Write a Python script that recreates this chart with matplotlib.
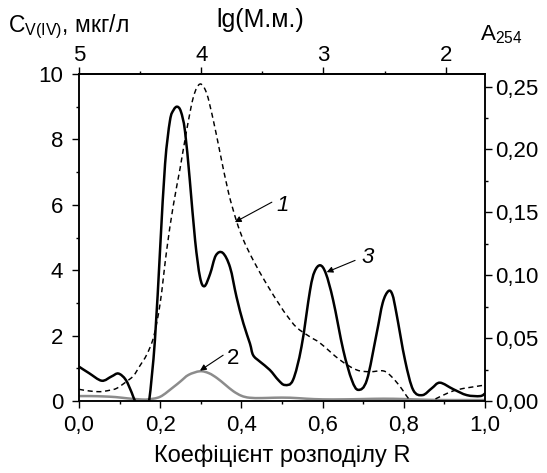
import matplotlib
matplotlib.use("Agg")
import numpy as np
import matplotlib.pyplot as plt
from matplotlib.path import Path
from matplotlib.patches import PathPatch
from matplotlib.ticker import MultipleLocator, FixedLocator, FuncFormatter

plt.rcParams['font.family'] = ['Liberation Sans', 'DejaVu Sans']
plt.rcParams['mathtext.fontset'] = 'custom'
plt.rcParams['mathtext.rm'] = 'Liberation Sans'
plt.rcParams['mathtext.it'] = 'Liberation Sans:italic'

# curve 3: V(IV) concentration, mkg/l (left axis)
r_v = [0.000, 0.025, 0.056, 0.080, 0.097, 0.115, 0.130, 0.138, 0.150, 0.165, 0.173,
       0.187, 0.200, 0.212, 0.224, 0.233, 0.242, 0.251, 0.261, 0.273, 0.286, 0.298,
       0.309, 0.323, 0.337, 0.354, 0.372, 0.388, 0.405, 0.421, 0.429, 0.446, 0.470,
       0.491, 0.507, 0.527, 0.548, 0.569, 0.580, 0.594, 0.608, 0.626, 0.651, 0.672,
       0.688, 0.709, 0.733, 0.748, 0.762, 0.772, 0.782, 0.803, 0.823, 0.846, 0.869,
       0.889, 0.922, 0.955, 0.988, 1.000]
c_v = [1.05, 0.85, 0.62, 0.75, 0.84, 0.65, 0.25, 0.00, -0.20, -0.20, 0.03,
       1.86, 4.70, 7.25, 8.57, 8.90, 9.00, 8.85, 8.26, 6.74, 4.91, 3.79,
       3.51, 3.89, 4.45, 4.53, 4.09, 3.18, 2.37, 1.76, 1.40, 1.20, 0.95,
       0.64, 0.49, 0.64, 1.66, 3.38, 3.95, 4.15, 3.90, 3.08, 1.55, 0.64,
       0.34, 0.64, 2.06, 3.00, 3.36, 3.25, 2.67, 1.25, 0.34, 0.18, 0.39,
       0.56, 0.36, 0.18, 0.15, 0.23]

# curve 1: absorbance A254 (right axis)
r_a = [0.000, 0.025, 0.052, 0.075, 0.093, 0.115, 0.134, 0.150, 0.167, 0.184,
       0.200, 0.216, 0.232, 0.249, 0.265, 0.282, 0.298, 0.314, 0.331, 0.347,
       0.368, 0.388, 0.405, 0.429, 0.462, 0.495, 0.512, 0.536, 0.569, 0.594,
       0.643, 0.684, 0.717, 0.750, 0.770, 0.791, 0.815, 0.836, 0.860, 0.889,
       0.930, 1.000]
a_254 = [0.0093, 0.0080, 0.0074, 0.0085, 0.0101, 0.0150, 0.0200, 0.0280, 0.0370, 0.0512,
         0.0780, 0.1200, 0.1550, 0.1850, 0.2150, 0.2420, 0.2520, 0.2450, 0.2230, 0.1980,
         0.1660, 0.1430, 0.1280, 0.1120, 0.0930, 0.0760, 0.0680, 0.0585, 0.0510, 0.0460,
         0.0326, 0.0247, 0.0233, 0.0239, 0.0193, 0.0114, 0.0008, -0.0024, -0.0013, 0.0034,
         0.0088, 0.0127]

# curve 2: grey trace (left axis)
r_g = [0.000, 0.030, 0.060, 0.090, 0.120, 0.150, 0.170, 0.200, 0.232, 0.250,
       0.270, 0.298, 0.320, 0.340, 0.360, 0.380, 0.400, 0.420, 0.450, 0.480,
       0.520, 0.560, 0.600, 0.650, 0.700, 0.750, 0.800, 0.850, 0.900, 0.950, 1.000]
c_g = [0.15, 0.15, 0.14, 0.12, 0.08, 0.05, 0.05, 0.13, 0.42, 0.60,
       0.80, 0.91, 0.85, 0.70, 0.50, 0.30, 0.16, 0.10, 0.09, 0.10,
       0.10, 0.07, 0.05, 0.05, 0.06, 0.07, 0.06, 0.04, 0.03, 0.03, 0.03]

top_ticks = [5, 4, 3, 2]
fs = 16


def spline_path(x, y):
    # Catmull-Rom style connector through the measured points (bezier segments)
    p = np.column_stack([x, y]).astype(float)
    n = len(p)
    verts = [p[0]]
    codes = [Path.MOVETO]
    for i in range(n - 1):
        p0 = p[max(i - 1, 0)]
        p1, p2 = p[i], p[i + 1]
        p3 = p[min(i + 2, n - 1)]
        verts += [p1 + (p2 - p0) / 6, p2 - (p3 - p1) / 6, p2]
        codes += [Path.CURVE4] * 3
    return Path(verts, codes)


fig = plt.figure(figsize=(5.47, 4.73), dpi=100)
ax = fig.add_axes([79 / 547, 1 - 401 / 473, 406 / 547, 327 / 473])
ax2 = ax.twinx()

ax.add_patch(PathPatch(spline_path(r_v, c_v), fill=False, ec='black', lw=1.8,
                       zorder=3, capstyle='round', joinstyle='round'))
ax.add_patch(PathPatch(spline_path(r_g, c_g), fill=False, ec='#8c8c8c', lw=1.8,
                       zorder=2, joinstyle='round'))
ax2.add_patch(PathPatch(spline_path(r_a, a_254), fill=False, ec='black', lw=1.05,
                        ls=(0, (3.5, 2.5)), capstyle='butt'))

ax.set_xlim(0, 1.0)
ax.set_ylim(0, 10)
ax2.set_ylim(0, 0.26)

ax.xaxis.set_major_locator(MultipleLocator(0.2))
ax.xaxis.set_minor_locator(MultipleLocator(0.1))
ax.yaxis.set_major_locator(MultipleLocator(2))
ax.yaxis.set_minor_locator(MultipleLocator(1))
ax2.yaxis.set_major_locator(MultipleLocator(0.05))
ax2.yaxis.set_minor_locator(MultipleLocator(0.025))

comma = lambda fmt: FuncFormatter(lambda v, p: (fmt % v).replace('.', ','))
ax.xaxis.set_major_formatter(comma('%.1f'))
ax.yaxis.set_major_formatter(FuncFormatter(lambda v, p: '%d' % v))
ax2.yaxis.set_major_formatter(comma('%.2f'))

# molecular mass scale on top: lg(M) falls by one unit every 0.301 in R
top = ax.secondary_xaxis('top', functions=(lambda r: 5 - r / 0.301,
                                           lambda g: (5 - g) * 0.301))
top.xaxis.set_major_locator(FixedLocator(top_ticks))
top.xaxis.set_minor_locator(FixedLocator([4.5, 3.5, 2.5]))
top.xaxis.set_major_formatter(FuncFormatter(lambda v, p: '%d' % round(v)))

for a in (ax, ax2, top):
    for s in a.spines.values():
        s.set_linewidth(1.1)
    a.tick_params(which='major', length=5, width=1.0, labelsize=fs)
    a.tick_params(which='minor', length=2.5, width=1.0)
ax.tick_params(axis='x', pad=5)
ax.tick_params(axis='y', pad=6.5)
ax2.tick_params(axis='y', pad=2.5)
top.tick_params(axis='x', pad=1)

ax.text(-0.175, 1.144, r'C$_{\mathregular{V(IV)}}$, мкг/л', transform=ax.transAxes,
        fontsize=fs + 0.5, ha='left', va='center')
ax.text(0.446, 1.165, 'lg(М.м.)', transform=ax.transAxes,
        fontsize=fs + 2, ha='center', va='center')
ax.text(0.988, 1.119, r'A$_{\mathregular{254}}$', transform=ax.transAxes,
        fontsize=fs, ha='left', va='center')
ax.set_xlabel('Коефіцієнт розподілу R', fontsize=fs + 1, labelpad=6)

arrow = dict(arrowstyle='-|>', color='black', lw=0.8, mutation_scale=9,
             shrinkA=0, shrinkB=0)
ax.annotate('', xy=(0.384, 5.47), xytext=(0.475, 6.08), arrowprops=arrow)
ax.text(0.487, 5.98, '1', fontsize=fs, style='italic', ha='left', va='center')
ax.annotate('', xy=(0.610, 3.94), xytext=(0.680, 4.30), arrowprops=arrow)
ax.text(0.697, 4.40, '3', fontsize=fs, style='italic', ha='left', va='center')
ax.annotate('', xy=(0.298, 0.93), xytext=(0.355, 1.40), arrowprops=arrow)
ax.text(0.363, 1.30, '2', fontsize=fs, ha='left', va='center')

fig.savefig('out.png', dpi=100)
